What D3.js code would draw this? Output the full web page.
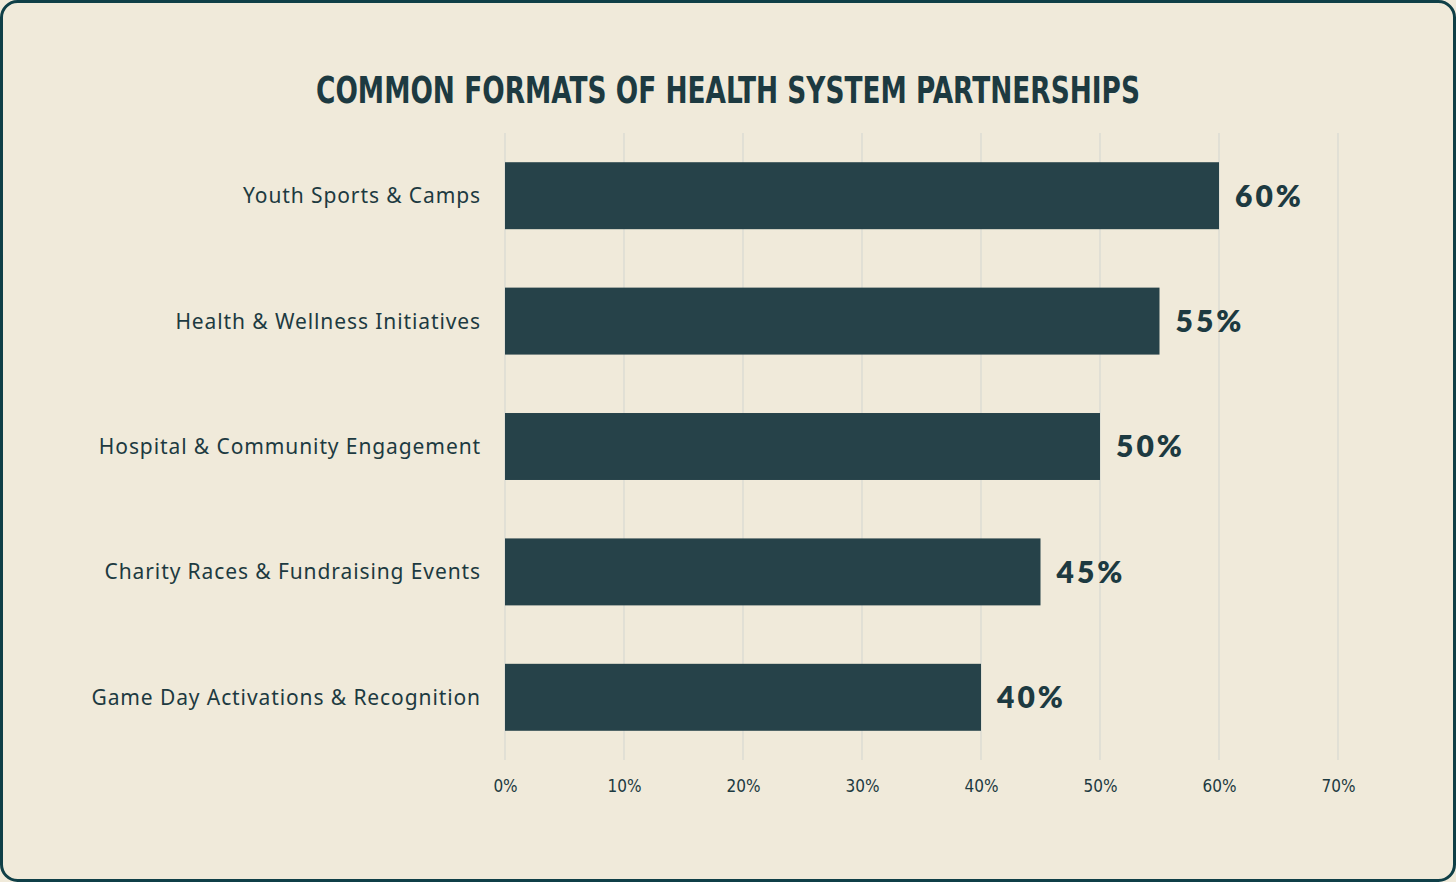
<!DOCTYPE html>
<html><head><meta charset="utf-8">
<script src="https://cdn.jsdelivr.net/npm/d3@7"></script>
<style>html,body{margin:0;padding:0;background:#f0eada;}svg{display:block;}</style>
</head><body>
<svg id="chart" width="1456" height="882"></svg>
<script>
const categories = ["Youth Sports & Camps","Health & Wellness Initiatives","Hospital & Community Engagement","Charity Races & Fundraising Events","Game Day Activations & Recognition"];
const values = [60,55,50,45,40];
const tickValues = [0,10,20,30,40,50,60,70];
const title = "COMMON FORMATS OF HEALTH SYSTEM PARTNERSHIPS";

const svg = d3.select("#chart");
const W = 1456, H = 882;
const dark = "#264249", text = "#1d3a41";

svg.append("rect").attr("x",1.5).attr("y",1.5).attr("width",W-3).attr("height",H-3)
  .attr("rx",16).attr("fill","#f0eada").attr("stroke","#0f3f47").attr("stroke-width",3);

const x = d3.scaleLinear().domain([0,70]).range([505,1338]);
const y = d3.scaleBand().domain(categories).range([133,760]).paddingInner(0.466).paddingOuter(0.233);

// gridlines
svg.append("g").selectAll("line").data(tickValues).join("line")
  .attr("x1",d=>x(d)).attr("x2",d=>x(d)).attr("y1",133).attr("y2",760)
  .attr("stroke","#d7d8d2").attr("stroke-width",1.2);

// bars
svg.append("g").selectAll("rect").data(values).join("rect")
  .attr("x",x(0)).attr("y",(d,i)=>y(categories[i]))
  .attr("width",d=>x(d)-x(0)).attr("height",y.bandwidth()).attr("fill",dark);

// value labels
svg.append("g").selectAll("text").data(values).join("text")
  .attr("x",d=>x(d)+16).attr("y",(d,i)=>y(categories[i])+y.bandwidth()/2)
  .attr("dy","0.36em").attr("font-family","Lato, sans-serif").attr("font-weight",800)
  .attr("font-size",30).attr("letter-spacing",3).attr("fill",text)
  .text(d=>d+"%");

// category axis
const yAxis = svg.append("g").attr("transform","translate(481,0)")
  .call(d3.axisLeft(y).tickSize(0).tickPadding(0));
yAxis.select(".domain").remove();
yAxis.selectAll("text").attr("font-family","'Noto Sans', sans-serif").attr("font-size",21)
  .attr("letter-spacing",0.9).attr("fill",text).attr("dy","0.36em");

// x axis
const xAxis = svg.append("g").attr("transform","translate(0,777)")
  .call(d3.axisBottom(x).tickValues(tickValues).tickFormat(d=>d+"%").tickSize(0).tickPadding(0));
xAxis.select(".domain").remove();
xAxis.selectAll("text").attr("font-family","'Liberation Sans Narrow', 'DejaVu Sans Condensed', sans-serif")
  .attr("font-size",17).attr("fill",text).attr("dy","0.9em");

// title
svg.append("text").attr("x",728).attr("y",103).attr("text-anchor","middle")
  .attr("font-family","'Liberation Sans Narrow', 'DejaVu Sans Condensed', sans-serif")
  .attr("font-weight",700).attr("font-size",38).attr("fill",text)
  .attr("textLength",824).attr("lengthAdjust","spacingAndGlyphs")
  .text(title);
</script>
</body></html>
